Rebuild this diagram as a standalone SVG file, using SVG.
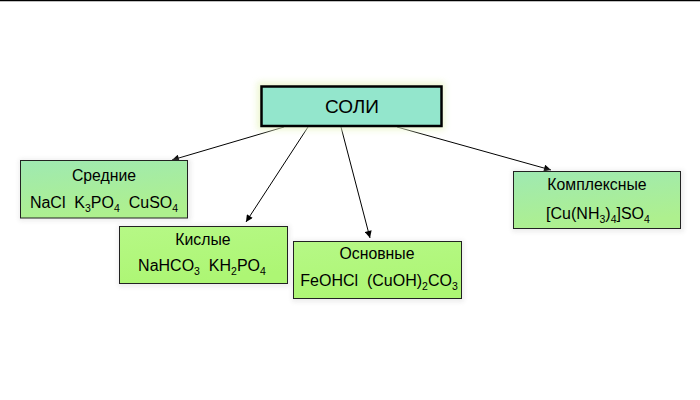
<svg xmlns="http://www.w3.org/2000/svg" width="700" height="400" viewBox="0 0 700 400">
<style>
.t{font-family:"Liberation Sans",Arial,sans-serif;fill:#000;text-anchor:middle}
.h{font-size:15.8px}
.f{font-size:16px}
.s{font-size:10.5px}
.box{stroke:#222;stroke-width:1}
.c{stroke:#000;stroke-width:1;fill:none;marker-end:url(#ah)}
</style>
<defs>
<linearGradient id="gMint" x1="0" y1="0" x2="0.3" y2="1">
<stop offset="0" stop-color="#9FE9B2"/>
<stop offset="1" stop-color="#AEF08E"/>
</linearGradient>
<linearGradient id="gLime" x1="0" y1="0" x2="0.3" y2="1">
<stop offset="0" stop-color="#B6F886"/>
<stop offset="1" stop-color="#ADF674"/>
</linearGradient>
<filter id="glow" x="-20%" y="-40%" width="140%" height="180%">
<feGaussianBlur stdDeviation="3"/>
</filter>
<filter id="sh" x="-10%" y="-20%" width="120%" height="140%">
<feGaussianBlur stdDeviation="2"/>
</filter>
<marker id="ah" viewBox="0 0 10 10" refX="10" refY="5" markerWidth="9" markerHeight="7" markerUnits="userSpaceOnUse" orient="auto">
<path d="M0,0 L10,5 L0,10 z" fill="#000"/>
</marker>
</defs>
<rect width="700" height="400" fill="#fff"/>
<line x1="0" y1="0.5" x2="700" y2="0.5" stroke="#000" stroke-width="1.5"/>
<g id="connectors">
<line class="c" x1="284" y1="127" x2="172" y2="160"/>
<line class="c" x1="308" y1="127" x2="246" y2="222"/>
<line class="c" x1="341" y1="127" x2="370" y2="238"/>
<line class="c" x1="397" y1="127" x2="551" y2="170"/>
</g>
<g id="soli">
<rect x="257" y="82" width="188" height="48" fill="#EAF5C8" opacity="0.8" filter="url(#glow)"/>
<rect class="" x="261.5" y="86.5" width="180" height="39.5" fill="#93E6CC" stroke="#000" stroke-width="2.5"/>
<text class="t" x="352" y="113" font-size="19">СОЛИ</text>
</g>
<g id="srednie">
<rect x="19" y="159" width="172" height="62" fill="#ccc" opacity="0.35" filter="url(#sh)"/>
<rect class="box" x="20.5" y="160.5" width="167" height="57.5" fill="url(#gMint)"/>
<text class="t h" x="104" y="181">Средние</text>
<text class="t f" x="104" y="208" xml:space="preserve">NaCl  K<tspan class="s" dy="4">3</tspan><tspan dy="-4">PO</tspan><tspan class="s" dy="4">4</tspan><tspan dy="-4">  CuSO</tspan><tspan class="s" dy="4">4</tspan></text>
</g>
<g id="kislye">
<rect x="118" y="225" width="172" height="62" fill="#ccc" opacity="0.35" filter="url(#sh)"/>
<rect class="box" x="119.5" y="226.5" width="168" height="57" fill="url(#gLime)"/>
<text class="t h" x="203" y="245">Кислые</text>
<text class="t f" x="202" y="271" xml:space="preserve">NaHCO<tspan class="s" dy="4">3</tspan><tspan dy="-4">  KH</tspan><tspan class="s" dy="4">2</tspan><tspan dy="-4">PO</tspan><tspan class="s" dy="4">4</tspan></text>
</g>
<g id="osnovnye">
<rect x="292" y="240" width="172" height="62" fill="#ccc" opacity="0.35" filter="url(#sh)"/>
<rect class="box" x="293.5" y="241.5" width="168" height="57" fill="url(#gLime)"/>
<text class="t h" x="377" y="259">Основные</text>
<text class="t f" x="379" y="286" xml:space="preserve">FeOHCl  (CuOH)<tspan class="s" dy="4">2</tspan><tspan dy="-4">CO</tspan><tspan class="s" dy="4">3</tspan></text>
</g>
<g id="kompleksnye">
<rect x="512" y="170" width="172" height="62" fill="#ccc" opacity="0.35" filter="url(#sh)"/>
<rect class="box" x="513.5" y="171.5" width="167" height="57" fill="url(#gMint)"/>
<text class="t h" x="597" y="190">Комплексные</text>
<text class="t f" x="598" y="219">[Cu(NH<tspan class="s" dy="4">3</tspan><tspan dy="-4">)</tspan><tspan class="s" dy="4">4</tspan><tspan dy="-4">]SO</tspan><tspan class="s" dy="4">4</tspan></text>
</g>
</svg>
